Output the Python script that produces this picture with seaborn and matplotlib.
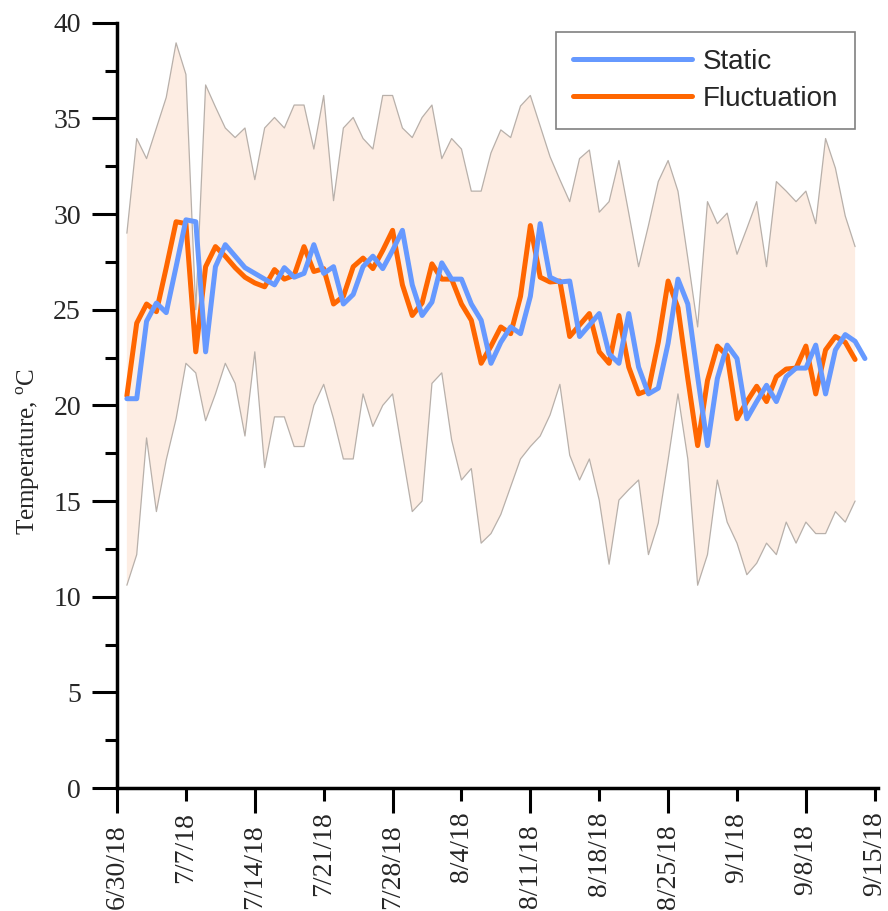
import pandas as pd
import matplotlib
matplotlib.use("Agg")
import matplotlib.pyplot as plt
import seaborn as sns
from matplotlib.lines import Line2D

# Daily temperatures (deg C), first day 2018-07-01
fluctuation = [
    20.5, 24.3, 25.3, 24.9, 27.2, 29.6, 29.5, 22.8, 27.25, 28.3,
    27.8, 27.2, 26.7, 26.4, 26.2, 27.1, 26.6, 26.8, 28.3, 27.0,
    27.15, 25.3, 25.7, 27.25, 27.7, 27.15, 28.1, 29.15, 26.3, 24.7,
    25.35, 27.4, 26.6, 26.6, 25.3, 24.45, 22.2, 23.1, 24.1, 23.75,
    25.7, 29.4, 26.7, 26.45, 26.5, 23.6, 24.2, 24.8, 22.8, 22.2,
    24.7, 22.0, 20.6, 20.8, 23.3, 26.5, 25.1, 21.4, 17.9, 21.3,
    23.1, 22.6, 19.3, 20.2, 21.0, 20.2, 21.5, 21.9, 21.95, 23.1,
    20.6, 22.9, 23.6, 23.3, 22.4,
]
static = [
    20.35, 20.35, 24.4, 25.35, 24.85, 27.25, 29.7, 29.6, 22.8, 27.25,
    28.4, 27.8, 27.2, 26.9, 26.6, 26.3, 27.2, 26.7, 26.9, 28.4,
    26.9, 27.25, 25.3, 25.8, 27.25, 27.8, 27.15, 28.1, 29.15, 26.3,
    24.7, 25.4, 27.45, 26.6, 26.6, 25.3, 24.45, 22.2, 23.3, 24.1,
    23.75, 25.7, 29.5, 26.7, 26.45, 26.5, 23.6, 24.2, 24.8, 22.7,
    22.2, 24.8, 22.0, 20.6, 20.9, 23.25, 26.6, 25.3, 21.5, 17.9,
    21.4, 23.15, 22.45, 19.3, 20.2, 21.05, 20.2, 21.5, 21.95, 21.95,
    23.15, 20.6, 22.9, 23.7, 23.35, 22.45,
]
# Daily ambient maximum / minimum envelope
band_high = [
    29.0, 33.95, 32.9, 34.5, 36.1, 38.95, 37.3, 25.0, 36.75, 35.6,
    34.5, 34.0, 34.5, 31.8, 34.5, 35.05, 34.5, 35.7, 35.7, 33.4,
    36.2, 30.7, 34.5, 35.05, 33.95, 33.4, 36.2, 36.2, 34.5, 34.0,
    35.05, 35.7, 32.9, 33.95, 33.4, 31.2, 31.2, 33.2, 34.4, 34.0,
    35.65, 36.2, 34.6, 33.0, 31.8, 30.65, 32.9, 33.35, 30.1, 30.65,
    32.8, 30.05, 27.25, 29.4, 31.7, 32.8, 31.2, 27.7, 24.1, 30.65,
    29.5, 30.05, 27.9, 29.25, 30.65, 27.25, 31.7, 31.2, 30.65, 31.2,
    29.5, 33.95, 32.4, 29.9, 28.3,
]
band_low = [
    10.6, 12.2, 18.3, 14.45, 17.15, 19.3, 22.2, 21.7, 19.2, 20.6,
    22.2, 21.15, 18.4, 22.8, 16.75, 19.4, 19.4, 17.85, 17.85, 20.0,
    21.1, 19.3, 17.2, 17.2, 20.6, 18.9, 20.0, 20.6, 17.5, 14.45,
    15.0, 21.15, 21.7, 18.2, 16.1, 16.7, 12.8, 13.3, 14.3, 15.75,
    17.2, 17.85, 18.4, 19.5, 21.1, 17.4, 16.1, 17.2, 15.05, 11.7,
    15.05, 15.6, 16.1, 12.2, 13.85, 17.15, 20.6, 17.2, 10.6, 12.2,
    16.1, 13.9, 12.8, 11.15, 11.75, 12.8, 12.2, 13.9, 12.8, 13.9,
    13.3, 13.3, 14.45, 13.9, 15.0,
]
tick_labels = ["6/30/18", "7/7/18", "7/14/18", "7/21/18", "7/28/18", "8/4/18",
               "8/11/18", "8/18/18", "8/25/18", "9/1/18", "9/8/18", "9/15/18"]

start = pd.Timestamp("2018-07-01")
fluct_df = pd.DataFrame({"date": pd.date_range(start, periods=len(fluctuation)),
                         "value": fluctuation})
static_df = pd.DataFrame({"date": pd.date_range(start, periods=len(static)),
                          "value": static})
band_df = pd.DataFrame({"date": pd.date_range(start, periods=len(band_high)),
                        "high": band_high, "low": band_low})

BLUE = "#6699FF"
ORANGE = "#FF6600"
FILL = "#FDEDE3"
EDGE = "#B8B0AA"

sns.set_style("ticks")
plt.rcParams["font.family"] = ["Liberation Serif", "DejaVu Serif"]
plt.rcParams["mathtext.fontset"] = "custom"
plt.rcParams["mathtext.rm"] = "Liberation Serif"

fig = plt.figure(figsize=(8.88, 9.11), dpi=100)
ax = fig.add_axes([0.1318, 0.135, 0.857, 0.84])

# ambient envelope
ax.fill_between(band_df["date"], band_df["low"], band_df["high"],
                facecolor=FILL, edgecolor="none", lw=0, zorder=1)
sns.lineplot(data=band_df, x="date", y="high", color=EDGE, lw=0.9, ax=ax, zorder=2)
sns.lineplot(data=band_df, x="date", y="low", color=EDGE, lw=0.9, ax=ax, zorder=2)

# treatment series
sns.lineplot(data=fluct_df, x="date", y="value", color=ORANGE, lw=3.6, ax=ax, zorder=3)
sns.lineplot(data=static_df, x="date", y="value", color=BLUE, lw=3.6, ax=ax, zorder=4)

ax.set_ylim(0, 40)
tick_dates = pd.to_datetime(tick_labels, format="%m/%d/%y")
ax.set_xlim(tick_dates[0], tick_dates[-1] + pd.Timedelta(hours=8))

ax.set_xticks(tick_dates[::2])
ax.set_xticklabels(tick_labels[::2])
ax.set_xticks(tick_dates[1::2], minor=True)
ax.set_xticklabels(tick_labels[1::2], minor=True)
ax.set_yticks(range(0, 41, 5))
ax.set_yticks([v + 2.5 for v in range(0, 40, 5)], minor=True)

ax.tick_params(which="major", direction="out", length=18, width=2.2,
               labelsize=20, pad=8, color="black")
ax.tick_params(which="minor", direction="out", length=9, width=2.2,
               labelsize=20, pad=8, color="black")
ax.tick_params(axis="x", which="both", labelrotation=90)

for side in ("top", "right"):
    ax.spines[side].set_visible(False)
for side in ("left", "bottom"):
    ax.spines[side].set_linewidth(2.5)
    ax.spines[side].set_color("black")

ax.set_xlabel("")
ax.set_ylabel(r"Temperature, $^{\mathrm{o}}$C", fontsize=18)
ax.yaxis.set_label_coords(-0.098, 0.44)

handles = [Line2D([], [], color=BLUE, lw=3.6, solid_capstyle="round"),
           Line2D([], [], color=ORANGE, lw=3.6, solid_capstyle="round")]
leg = ax.legend(handles, ["Static", "Fluctuation"], loc="upper right",
                bbox_to_anchor=(0.970, 0.988), borderaxespad=0,
                prop={"family": "Liberation Sans", "size": 20},
                frameon=True, fancybox=False, edgecolor="#808080",
                handlelength=4.25, handletextpad=0.4, borderpad=0.62,
                labelspacing=0.38)
leg.get_frame().set_linewidth(1.2)
leg.get_frame().set_alpha(1)

fig.savefig("out.png", dpi=100)
